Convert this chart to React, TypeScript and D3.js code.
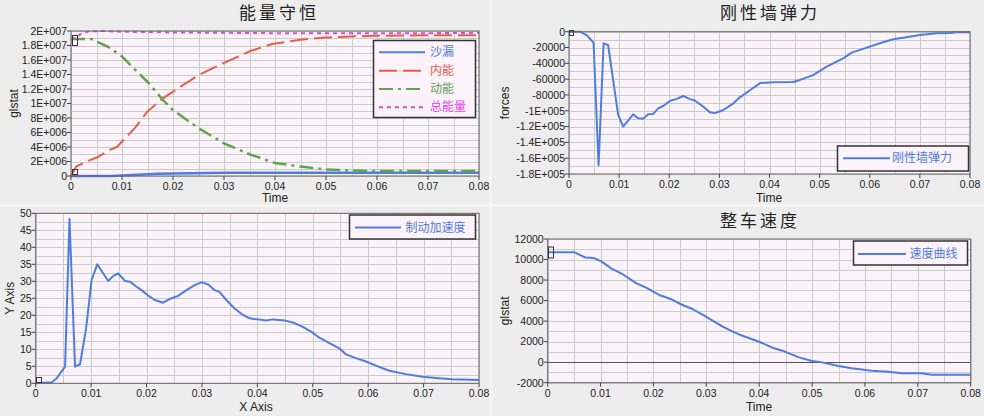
import React from "react";
import * as d3 from "d3";

// ---------- data ----------
const xTickValues = [0, 0.01, 0.02, 0.03, 0.04, 0.05, 0.06, 0.07, 0.08];

// Panel 1: 能量守恒
const sandTime = [0, 0.008, 0.012, 0.017, 0.027, 0.03, 0.08];
const sandLeak = [0, 0, 1.5e5, 3e5, 4e5, 4.5e5, 4.5e5];
const internalTime = [0, 0.001, 0.003, 0.0054, 0.0076, 0.009, 0.0103, 0.0125, 0.015, 0.018, 0.0214, 0.025, 0.0279, 0.03, 0.0335, 0.035, 0.0394, 0.045, 0.05, 0.055, 0.06, 0.07, 0.08];
const internalEnergy = [0, 1.28e6, 1.97e6, 2.66e6, 3.6e6, 4.0e6, 4.97e6, 6.6e6, 8.9e6, 1.07e7, 1.23e7, 1.39e7, 1.49e7, 1.56e7, 1.67e7, 1.72e7, 1.82e7, 1.88e7, 1.91e7, 1.925e7, 1.935e7, 1.94e7, 1.94e7];
const kineticTime = [0, 0.004, 0.0073, 0.01, 0.0122, 0.015, 0.018, 0.02, 0.025, 0.03, 0.035, 0.04, 0.045, 0.05, 0.055, 0.06, 0.07, 0.08];
const kineticEnergy = [1.89e7, 1.89e7, 1.78e7, 1.65e7, 1.49e7, 1.3e7, 1.05e7, 9.1e6, 6.6e6, 4.5e6, 3.0e6, 1.8e6, 1.3e6, 0.9e6, 0.75e6, 0.7e6, 0.7e6, 0.7e6];
const totalTime = [0, 0.001, 0.002, 0.0035, 0.006, 0.01, 0.015, 0.02, 0.03, 0.04, 0.05, 0.06, 0.07, 0.08];
const totalEnergy = [1.88e7, 1.92e7, 1.96e7, 1.995e7, 2.0e7, 1.99e7, 1.985e7, 1.98e7, 1.975e7, 1.97e7, 1.97e7, 1.97e7, 1.97e7, 1.975e7];

// Panel 2: 刚性墙弹力
const forceTime = [0, 0.0022, 0.0035, 0.0049, 0.0059, 0.0069, 0.0078, 0.0098, 0.0108, 0.0128, 0.0138, 0.0148, 0.0158, 0.0168, 0.0178, 0.0188, 0.0201, 0.0215, 0.0228, 0.024, 0.0251, 0.0268, 0.0281, 0.0291, 0.0308, 0.0328, 0.0341, 0.0361, 0.0381, 0.0407, 0.0447, 0.0461, 0.0487, 0.0514, 0.0547, 0.0564, 0.0594, 0.062, 0.0647, 0.0673, 0.07, 0.0733, 0.076, 0.0773, 0.08];
const wallForce = [0, 0, -4200, -13900, -169000, -14700, -16800, -105000, -120000, -104500, -109500, -110000, -104500, -104000, -97000, -94000, -87700, -85000, -81300, -85000, -87000, -95000, -102000, -103000, -99000, -90600, -83000, -74000, -65000, -64000, -63600, -61000, -55000, -44300, -33700, -26500, -20200, -14700, -9600, -7000, -4200, -2000, -1500, -800, -800];

// Panel 3: 制动加速度
const accelTime = [0, 0.0029, 0.0038, 0.0053, 0.0061, 0.0071, 0.008, 0.0091, 0.0101, 0.0111, 0.0131, 0.014, 0.0149, 0.0161, 0.017, 0.0182, 0.0191, 0.0203, 0.0215, 0.023, 0.0242, 0.0257, 0.0272, 0.0287, 0.0299, 0.0311, 0.0323, 0.0332, 0.0344, 0.0359, 0.0374, 0.0386, 0.0401, 0.0416, 0.0428, 0.0449, 0.0464, 0.0482, 0.0497, 0.0512, 0.053, 0.0548, 0.056, 0.0578, 0.0596, 0.0614, 0.0638, 0.0668, 0.0698, 0.0728, 0.0752, 0.08];
const brakeAccel = [0, 0.3, 1.5, 4.9, 48.3, 4.9, 5.6, 16.2, 30.4, 35, 30.1, 31.6, 32.3, 30.1, 29.9, 28.4, 27.4, 25.8, 24.5, 23.7, 24.8, 25.7, 27.4, 28.9, 29.7, 29.1, 27.4, 26.8, 24.5, 22, 20.1, 19.1, 18.8, 18.5, 18.8, 18.5, 17.9, 16.6, 15.2, 13.4, 11.8, 10.3, 8.5, 7.4, 6.4, 5.2, 3.7, 2.7, 1.9, 1.5, 1.2, 1.0];

// Panel 4: 整车速度
const speedTime = [0, 0.0051, 0.007, 0.0089, 0.0102, 0.012, 0.0139, 0.0168, 0.0186, 0.0211, 0.0234, 0.0255, 0.0274, 0.0296, 0.0315, 0.0331, 0.035, 0.0362, 0.04, 0.0425, 0.0444, 0.0475, 0.05, 0.0519, 0.055, 0.0575, 0.0613, 0.0644, 0.067, 0.0707, 0.0726, 0.08];
const vehicleSpeed = [10700, 10700, 10220, 10120, 9790, 9145, 8660, 7685, 7255, 6545, 6125, 5570, 5180, 4530, 3945, 3460, 2970, 2700, 1990, 1410, 1120, 470, 110, -20, -380, -600, -830, -930, -1090, -1090, -1220, -1220];

const BLUE = "#4f7ddf";
const RED = "#e2604b";
const GREEN = "#62a352";
const MAGENTA = "#e045e0";
const PLOT_BG = "#fcf2fa";
const GRID = "#c6cfc6";
const TEXT = "#222";
const TICK_FONT = "'Liberation Sans', Arial, sans-serif";
const CJK_FONT = "'Noto Sans CJK SC', sans-serif";

function fmt(v: number): string {
  if (v === 0) return "0";
  const a = Math.abs(v);
  if (a < 1e5) return String(Math.round(v));
  const e = Math.floor(Math.log10(a) + 1e-9);
  const m = +(v / Math.pow(10, e)).toFixed(2);
  return `${m}E+${String(e).padStart(3, "0")}`;
}
function fmtX(v: number): string {
  return v === 0 ? "0" : String(+v.toFixed(2));
}

type Series = { xs: number[]; ys: number[]; color: string; dash?: string; width: number; label: string };
type Box = { left: number; right: number; top: number; bottom: number };

function Panel(props: {
  box: Box;
  yDomain: [number, number];
  yStep: number;
  title?: string;
  titleX?: number;
  titleY?: number;
  yLabel: string;
  yLabelX: number;
  xLabel: string;
  xLabelX: number;
  xLabelY: number;
  series: Series[];
  legend: { x: number; y: number; w: number; h: number; lineX1: number; lineX2: number; textX: number; rowY: number[] };
  marker: { x: number; y: number; w: number; h: number }[];
  zeroLine?: boolean;
}) {
  const { box, yDomain, yStep } = props;
  const x = d3.scaleLinear().domain([0, 0.08]).range([box.left, box.right]);
  const y = d3.scaleLinear().domain(yDomain).range([box.bottom, box.top]);
  const yTicks = d3.range(yDomain[0], yDomain[1] + yStep / 2, yStep);
  const yGrid = d3.range(yDomain[0], yDomain[1] + yStep / 4, yStep / 2);
  const xGrid = d3.range(0, 0.08 + 0.0025, 0.005);
  const line = d3.line<[number, number]>().x((d) => x(d[0])).y((d) => y(d[1]));
  const cy = (box.top + box.bottom) / 2;
  return (
    <g>
      {props.title && (
        <text x={props.titleX} y={props.titleY} textAnchor="middle" fontFamily={CJK_FONT} fontSize={17} fill={TEXT} letterSpacing={3}>
          {props.title}
        </text>
      )}
      <rect x={box.left} y={box.top} width={box.right - box.left} height={box.bottom - box.top} fill={PLOT_BG} />
      {yGrid.map((v, i) => (
        <line key={"hy" + i} x1={box.left} x2={box.right} y1={Math.round(y(v)) + 0.5} y2={Math.round(y(v)) + 0.5} stroke={GRID} strokeWidth={1} />
      ))}
      {xGrid.map((v, i) => (
        <line key={"vx" + i} x1={Math.round(x(v)) + 0.5} x2={Math.round(x(v)) + 0.5} y1={box.top} y2={box.bottom} stroke={GRID} strokeWidth={1} />
      ))}
      {props.zeroLine && (
        <line x1={box.left} x2={box.right} y1={Math.round(y(0)) + 0.5} y2={Math.round(y(0)) + 0.5} stroke="#555" strokeWidth={1} />
      )}
      {props.series.map((s, i) => (
        <path
          key={"s" + i}
          d={line(s.xs.map((v, j) => [v, s.ys[j]] as [number, number])) || ""}
          fill="none"
          stroke={s.color}
          strokeWidth={s.width}
          strokeDasharray={s.dash}
          strokeLinejoin="round"
        />
      ))}
      <rect x={box.left} y={box.top} width={box.right - box.left} height={box.bottom - box.top} fill="none" stroke="#666" strokeWidth={1} />
      {props.marker.map((m, i) => (
        <rect key={"m" + i} x={m.x + 0.5} y={m.y + 0.5} width={m.w} height={m.h} fill="none" stroke="#333" strokeWidth={1} />
      ))}
      {yTicks.map((v, i) => (
        <g key={"yt" + i}>
          <line x1={box.left - 4} x2={box.left} y1={y(v)} y2={y(v)} stroke="#444" />
          <text x={box.left - 4} y={y(v) + 3.8} textAnchor="end" fontFamily={TICK_FONT} fontSize={10.5} fill={TEXT}>
            {fmt(v)}
          </text>
        </g>
      ))}
      {xTickValues.map((v, i) => (
        <g key={"xt" + i}>
          <line x1={x(v)} x2={x(v)} y1={box.bottom} y2={box.bottom + 4} stroke="#444" />
          <text x={x(v)} y={box.bottom + 14} textAnchor="middle" fontFamily={TICK_FONT} fontSize={10.5} fill={TEXT}>
            {fmtX(v)}
          </text>
        </g>
      ))}
      <text
        transform={`translate(${props.yLabelX},${cy}) rotate(-90)`}
        textAnchor="middle"
        dominantBaseline="central"
        fontFamily={TICK_FONT}
        fontSize={12}
        fill={TEXT}
      >
        {props.yLabel}
      </text>
      <text x={props.xLabelX} y={props.xLabelY} textAnchor="middle" fontFamily={TICK_FONT} fontSize={12} fill={TEXT}>
        {props.xLabel}
      </text>
      <rect x={props.legend.x} y={props.legend.y} width={props.legend.w} height={props.legend.h} fill={PLOT_BG} stroke="#333" strokeWidth={1.5} />
      {props.series.map((s, i) => (
        <g key={"lg" + i}>
          <line
            x1={props.legend.lineX1}
            x2={props.legend.lineX2}
            y1={props.legend.rowY[i]}
            y2={props.legend.rowY[i]}
            stroke={s.color}
            strokeWidth={2}
            strokeDasharray={s.dash}
          />
          <text x={props.legend.textX} y={props.legend.rowY[i] + 4} fontFamily={CJK_FONT} fontSize={12} fill={s.color}>
            {s.label}
          </text>
        </g>
      ))}
    </g>
  );
}

export default function App() {
  return (
    <svg width={984} height={416} style={{ position: "absolute", left: 0, top: 0, background: "#ededed" }}>
      <rect x={0} y={0} width={984} height={416} fill="#ededed" />
      <line x1={490.5} x2={490.5} y1={0} y2={416} stroke="#f8f8f8" strokeWidth={2} />
      <line x1={0} x2={984} y1={205.5} y2={205.5} stroke="#f8f8f8" strokeWidth={2} />
      <Panel
        box={{ left: 71, right: 479, top: 31, bottom: 176 }}
        yDomain={[0, 2e7]}
        yStep={2e6}
        title="能量守恒"
        titleX={279}
        titleY={19}
        yLabel="glstat"
        yLabelX={14}
        xLabel="Time"
        xLabelX={275}
        xLabelY={202}
        series={[
          { xs: sandTime, ys: sandLeak, color: BLUE, width: 2.5, label: "沙漏" },
          { xs: internalTime, ys: internalEnergy, color: RED, width: 2, dash: "18 6", label: "内能" },
          { xs: kineticTime, ys: kineticEnergy, color: GREEN, width: 2.5, dash: "14 5 3 5", label: "动能" },
          { xs: totalTime, ys: totalEnergy, color: MAGENTA, width: 2, dash: "4 4", label: "总能量" },
        ]}
        legend={{ x: 373.5, y: 40.5, w: 102, h: 77, lineX1: 379, lineX2: 425, textX: 430, rowY: [52.3, 70.7, 89, 107.3] }}
        marker={[
          { x: 72, y: 35, w: 5, h: 10 },
          { x: 72, y: 169, w: 5, h: 5 },
        ]}
      />
      <Panel
        box={{ left: 569, right: 970, top: 31.7, bottom: 174 }}
        yDomain={[-1.8e5, 0]}
        yStep={2e4}
        title="刚性墙弹力"
        titleX={770}
        titleY={19}
        yLabel="forces"
        yLabelX={505}
        xLabel="Time"
        xLabelX={769}
        xLabelY={202}
        series={[{ xs: forceTime, ys: wallForce, color: BLUE, width: 2, label: "刚性墙弹力" }]}
        legend={{ x: 837.5, y: 146, w: 131, h: 25, lineX1: 843, lineX2: 890, textX: 892, rowY: [158.3] }}
        marker={[{ x: 569, y: 30, w: 4, h: 5 }]}
      />
      <Panel
        box={{ left: 35.7, right: 479, top: 213.3, bottom: 383.3 }}
        yDomain={[0, 50]}
        yStep={5}
        yLabel="Y Axis"
        yLabelX={10}
        xLabel="X Axis"
        xLabelX={256}
        xLabelY={411}
        series={[{ xs: accelTime, ys: brakeAccel, color: BLUE, width: 2, label: "制动加速度" }]}
        legend={{ x: 349.5, y: 215, w: 126, h: 24, lineX1: 355, lineX2: 401, textX: 405.5, rowY: [227.5] }}
        marker={[{ x: 36, y: 377, w: 5, h: 5 }]}
      />
      <Panel
        box={{ left: 547.7, right: 970.7, top: 239, bottom: 382.7 }}
        yDomain={[-2000, 12000]}
        yStep={2000}
        title="整车速度"
        titleX={760}
        titleY={227}
        yLabel="glstat"
        yLabelX={505}
        xLabel="Time"
        xLabelX={759}
        xLabelY={411}
        series={[{ xs: speedTime, ys: vehicleSpeed, color: BLUE, width: 2, label: "速度曲线" }]}
        legend={{ x: 853.5, y: 241, w: 114, h: 24, lineX1: 858, lineX2: 906, textX: 909.5, rowY: [254] }}
        marker={[{ x: 548, y: 246.5, w: 5, h: 11 }]}
        zeroLine
      />
    </svg>
  );
}
